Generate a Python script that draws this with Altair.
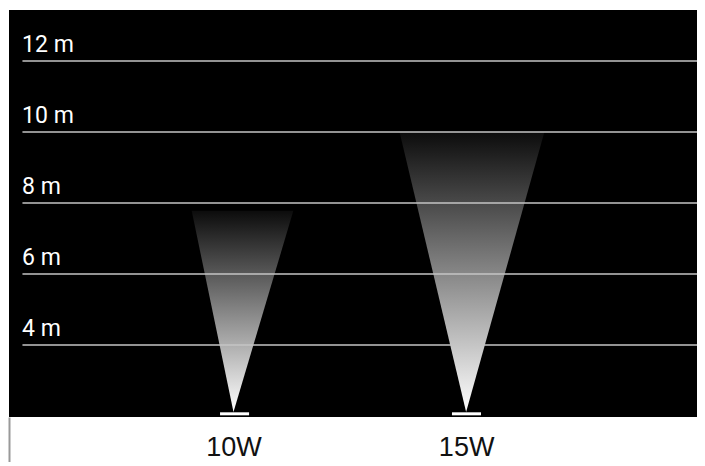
import altair as alt
import pandas as pd

# ---- data ----
levels = [4, 6, 8, 10, 12]
level_labels = ["4 m", "6 m", "8 m", "10 m", "12 m"]

lamps = ["10W", "15W"]
lamp_x = [6.34, 12.91]        # apex / lamp position
lamp_y = [2.11, 2.11]         # apex height
beam_top = [7.78, 10.0]       # height reached by beam
beam_left = [5.16, 11.03]     # left edge at top
beam_right = [8.03, 15.12]    # right edge at top
base_left = [5.96, 12.51]
base_right = [6.78, 13.33]
base_y = [2.06, 2.06]

X_DOMAIN = [0, 19.43]
Y_DOMAIN = [1.97, 13.44]
grid_start = 0.38
label_x = 0.37

# ---- tables ----
beam_rows = []
for name, ax, ay, top, l, r in zip(lamps, lamp_x, lamp_y, beam_top, beam_left, beam_right):
    beam_rows.append({"lamp": name, "y": ay, "xl": ax, "xr": ax})
    beam_rows.append({"lamp": name, "y": top, "xl": l, "xr": r})
beams_df = pd.DataFrame(beam_rows)

grid_df = pd.DataFrame({"y": levels, "label": level_labels,
                        "xs": [grid_start] * len(levels), "xe": [X_DOMAIN[1]] * len(levels),
                        "lx": [label_x] * len(levels)})
base_df = pd.DataFrame({"lamp": lamps, "xl": base_left, "xr": base_right, "y": base_y})

xscale = alt.Scale(domain=X_DOMAIN, nice=False, zero=False)
yscale = alt.Scale(domain=Y_DOMAIN, nice=False, zero=False)

expr = "''"
for name, v in reversed(list(zip(lamps, lamp_x))):
    expr = f"datum.value == {v} ? '{name}' : ({expr})"

xaxis = alt.Axis(
    values=[X_DOMAIN[0]] + lamp_x,
    labelExpr=expr,
    domain=False, grid=False, ticks=True, tickSize=50, tickWidth=2,
    tickColor={"condition": {"test": f"datum.value == {X_DOMAIN[0]}", "value": "#999999"},
               "value": "transparent"},
    labelFont="Liberation Sans Narrow, Arial Narrow, Liberation Sans, sans-serif",
    labelFontSize=27, labelColor="#111111", labelBaseline="alphabetic",
    labelPadding=-12, labelFlush=False, labelOverlap=False, title=None,
)

gradient = alt.LinearGradient(
    gradient="linear",
    stops=[alt.GradientStop(color="#ffffff", offset=0),
           alt.GradientStop(color="#0c0c0c", offset=1)],
    x1=0, x2=0, y1=1, y2=0,
)

beams = alt.Chart(beams_df).mark_area(orient="horizontal", color=gradient).encode(
    y=alt.Y("y:Q", scale=yscale, axis=None),
    x=alt.X("xl:Q", scale=xscale, axis=xaxis),
    x2="xr:Q",
    detail="lamp:N",
)

rules = alt.Chart(grid_df).mark_rule(color="#c4c4c4", strokeWidth=1.5).encode(
    y=alt.Y("y:Q", scale=yscale, axis=None),
    x=alt.X("xs:Q", scale=xscale, axis=xaxis),
    x2="xe:Q",
)

labels = alt.Chart(grid_df).mark_text(
    align="left", baseline="alphabetic", dy=-9, font="Roboto", fontSize=23, color="#ffffff"
).encode(
    y=alt.Y("y:Q", scale=yscale, axis=None),
    x=alt.X("lx:Q", scale=xscale, axis=xaxis),
    text="label:N",
)

bases = alt.Chart(base_df).mark_rule(color="#ffffff", strokeWidth=3).encode(
    y=alt.Y("y:Q", scale=yscale, axis=None),
    x=alt.X("xl:Q", scale=xscale, axis=xaxis),
    x2="xr:Q",
)

chart = alt.layer(beams, rules, labels, bases).properties(
    width=688, height=407,
    autosize=alt.AutoSizeParams(type="none"),
    padding={"left": 1, "top": 2, "right": 0, "bottom": 45},
    background="white",
).configure_view(fill="black", strokeWidth=0)

chart.save("out.html", embed_options={"renderer": "svg", "actions": False})
